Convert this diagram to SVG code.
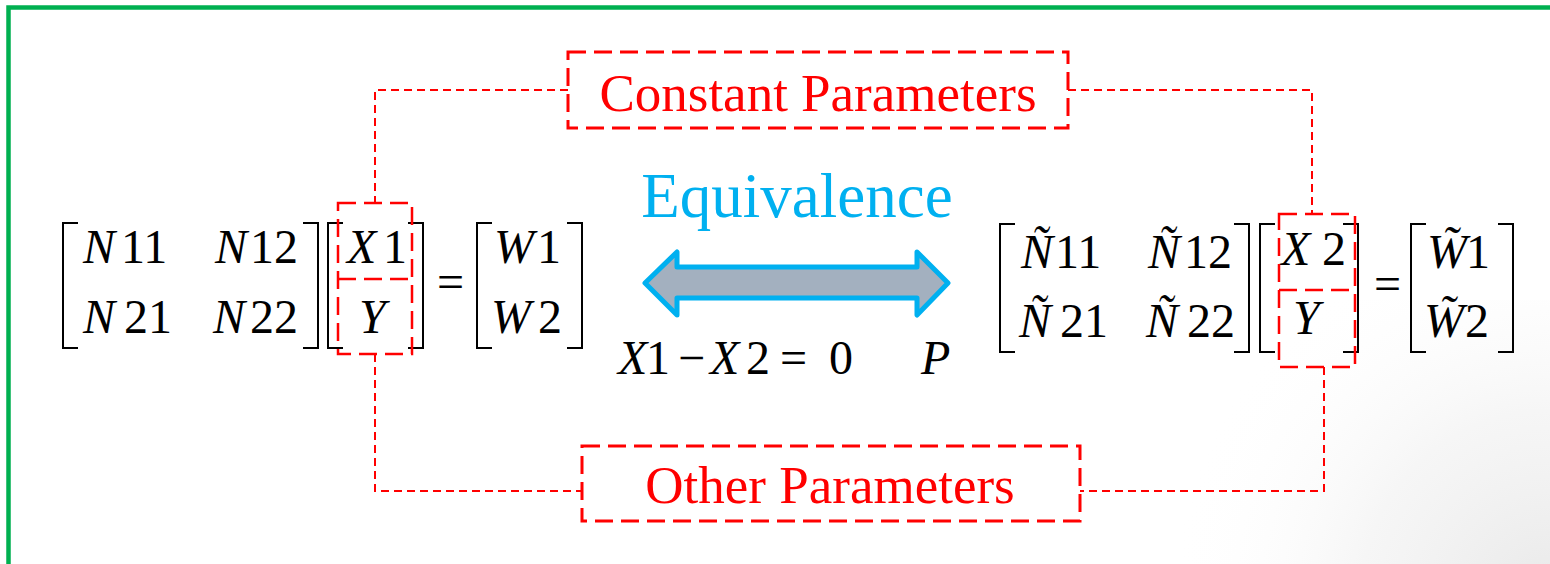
<svg xmlns="http://www.w3.org/2000/svg" width="1550" height="564" viewBox="0 0 1550 564">
<defs>
<radialGradient id="bgfade" cx="1550" cy="600" r="380" gradientUnits="userSpaceOnUse">
<stop offset="0" stop-color="#e6e6e6" stop-opacity="0.9"/>
<stop offset="0.5" stop-color="#f0f0f0" stop-opacity="0.6"/>
<stop offset="1" stop-color="#ffffff" stop-opacity="0"/>
</radialGradient>
</defs>
<style>
.m{font-family:"Liberation Serif","Times New Roman",serif;font-size:48px;fill:#000}
.i{font-style:italic}
.br{fill:none;stroke:#000;stroke-width:2}
.lbl{font-family:"Liberation Serif","Times New Roman",serif;font-size:53px;fill:#FF0000;text-anchor:middle}
.pbox{fill:none;stroke:#FF0000;stroke-width:3;stroke-dasharray:18 8}
.vbox{fill:none;stroke:#FF0000;stroke-width:2.5;stroke-dasharray:18 8}
.conn{fill:none;stroke:#FF0000;stroke-width:2;stroke-dasharray:8 5}
</style>
<rect x="0" y="0" width="1550" height="564" fill="#ffffff"/>
<rect x="1100" y="300" width="450" height="264" fill="url(#bgfade)"/>
<path d="M8.5 564 V7.5 H1550" fill="none" stroke="#00B050" stroke-width="4.5"/>

<g id="connectors">
<path class="conn" d="M568 90 H375 V203"/>
<path class="conn" d="M1068 90 H1312 V214"/>
<path class="conn" d="M375 354 V491 H582"/>
<path class="conn" d="M1324 367 V491 H1080"/>
</g>

<g id="constant-parameters">
<rect class="pbox" x="568" y="52" width="500" height="76"/>
<text class="lbl" x="818" y="111">Constant Parameters</text>
</g>

<g id="other-parameters">
<rect class="pbox" x="582" y="446" width="498" height="75"/>
<text class="lbl" x="830" y="503">Other Parameters</text>
</g>

<g id="left-equation">
<path class="br" d="M78 223 H63 V348 H78"/>
<path class="br" d="M303 223 H318 V348 H303"/>
<text class="m" y="263"><tspan class="i" x="83">N</tspan><tspan x="121">11</tspan></text>
<text class="m" y="263"><tspan class="i" x="215">N</tspan><tspan x="250">12</tspan></text>
<text class="m" y="333"><tspan class="i" x="83">N</tspan><tspan x="124">21</tspan></text>
<text class="m" y="333"><tspan class="i" x="213">N</tspan><tspan x="250">22</tspan></text>
<path class="br" d="M343 223 H328 V348 H343"/>
<path class="br" d="M408 223 H423 V348 H408"/>
<text class="m" y="263"><tspan class="i" x="347">X</tspan><tspan x="383">1</tspan></text>
<text class="m i" x="359" y="333">Y</text>
<text class="m" x="437" y="298">=</text>
<path class="br" d="M492 223 H477 V348 H492"/>
<path class="br" d="M567 223 H582 V348 H567"/>
<text class="m" y="263"><tspan class="i" x="494">W</tspan><tspan x="537">1</tspan></text>
<text class="m" y="333"><tspan class="i" x="491">W</tspan><tspan x="538">2</tspan></text>
</g>

<g id="left-vector-box">
<rect class="vbox" x="338" y="203" width="74" height="151"/>
<line class="vbox" x1="338" y1="279" x2="412" y2="279"/>
</g>

<g id="equivalence">
<text x="797" y="217" text-anchor="middle" style="font-family:'Liberation Serif','Times New Roman',serif;font-size:63px;fill:#00B0F0">Equivalence</text>
<polygon points="645,283 677,252 677,267 917,267 917,252 948,283 917,315 917,298 677,298 677,315" fill="#A3B0BF" stroke="#00B0F0" stroke-width="5" stroke-linejoin="round"/>
<text class="m" y="374"><tspan class="i" x="618">X</tspan><tspan x="646">1</tspan><tspan x="678">−</tspan><tspan class="i" x="710">X</tspan><tspan x="746">2</tspan><tspan x="780">=</tspan><tspan x="829">0</tspan></text>
<text class="m i" x="921" y="374">P</text>
</g>

<g id="right-equation">
<path class="br" d="M1015 224 H1000 V352 H1015"/>
<path class="br" d="M1234 224 H1249 V352 H1234"/>
<text class="m" y="268"><tspan class="i" x="1021">Ñ</tspan><tspan x="1055">11</tspan></text>
<text class="m" y="268"><tspan class="i" x="1148">Ñ</tspan><tspan x="1184">12</tspan></text>
<text class="m" y="337"><tspan class="i" x="1019">Ñ</tspan><tspan x="1060">21</tspan></text>
<text class="m" y="337"><tspan class="i" x="1146">Ñ</tspan><tspan x="1187">22</tspan></text>
<path class="br" d="M1275 224 H1260 V352 H1275"/>
<path class="br" d="M1343 224 H1358 V352 H1343"/>
<text class="m" y="265"><tspan class="i" x="1281">X</tspan><tspan x="1322">2</tspan></text>
<text class="m i" x="1293" y="334">Y</text>
<text class="m" x="1374" y="300">=</text>
<path class="br" d="M1426 224 H1411 V352 H1426"/>
<path class="br" d="M1498 224 H1513 V352 H1498"/>
<text class="m" y="268"><tspan class="i" x="1427">W̃</tspan><tspan x="1466">1</tspan></text>
<text class="m" y="337"><tspan class="i" x="1424">W̃</tspan><tspan x="1465">2</tspan></text>
</g>

<g id="right-vector-box">
<rect class="vbox" x="1279" y="214" width="76" height="153"/>
<line class="vbox" x1="1279" y1="290" x2="1355" y2="290"/>
</g>
</svg>
